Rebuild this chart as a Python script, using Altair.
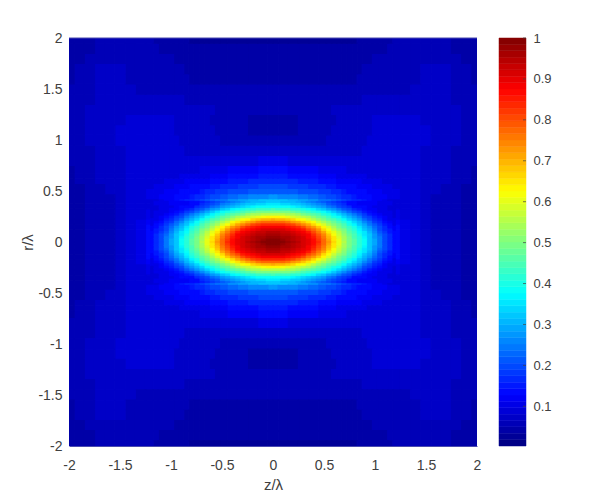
import altair as alt
import pandas as pd

Z = [0,.1,.2,.3,.4,.5,.55,.6,.65,.7,.75,.8,.85,.9,.95,1,1.05,1.1,1.15,1.2,1.3,1.4,1.5,1.6,1.7,1.8,1.9,2]
R = [0,.05,.1,.15,.2,.25,.3,.35,.4,.45,.5,.55,.6,.65,.7,.8,.9,1,1.1,1.2,1.3,1.4,1.5,1.6,1.7,1.8,1.9,2]
V = [
[1,.985,.95,.90,.85,.77,.71,.65,.60,.55,.50,.46,.42,.38,.33,.29,.24,.20,.17,.14,.105,.09,.075,.06,.055,.05,.045,.042],
[.98,.97,.935,.885,.835,.755,.70,.64,.59,.54,.49,.45,.41,.37,.325,.285,.235,.195,.165,.14,.105,.09,.075,.06,.055,.05,.045,.042],
[.94,.93,.90,.85,.80,.72,.665,.61,.56,.51,.47,.43,.39,.35,.31,.27,.225,.19,.16,.135,.105,.09,.075,.06,.055,.05,.045,.042],
[.85,.84,.81,.77,.72,.65,.60,.55,.51,.47,.43,.39,.35,.32,.285,.25,.21,.18,.15,.13,.105,.09,.075,.06,.055,.05,.045,.042],
[.75,.74,.71,.67,.62,.56,.52,.48,.45,.41,.37,.34,.31,.28,.25,.22,.19,.16,.14,.12,.10,.09,.075,.06,.055,.05,.045,.042],
[.62,.61,.59,.55,.51,.46,.43,.40,.37,.34,.31,.285,.26,.24,.215,.19,.165,.145,.125,.11,.095,.088,.075,.06,.055,.05,.045,.042],
[.49,.485,.47,.44,.41,.37,.35,.325,.30,.28,.26,.24,.22,.20,.18,.16,.145,.13,.115,.10,.09,.085,.075,.06,.055,.05,.045,.042],
[.39,.385,.37,.35,.33,.30,.285,.27,.25,.235,.22,.20,.185,.17,.155,.14,.13,.115,.105,.095,.09,.085,.075,.06,.055,.05,.045,.042],
[.32,.315,.305,.29,.27,.25,.24,.225,.21,.20,.185,.17,.16,.15,.135,.125,.115,.105,.095,.09,.09,.085,.075,.06,.055,.05,.045,.042],
[.27,.265,.255,.24,.23,.21,.20,.19,.18,.17,.16,.15,.14,.135,.13,.125,.12,.115,.11,.105,.09,.085,.075,.065,.055,.05,.046,.043],
[.22,.22,.21,.205,.195,.18,.175,.165,.16,.15,.14,.14,.135,.13,.125,.12,.115,.11,.105,.10,.09,.085,.075,.07,.055,.05,.048,.045],
[.19,.19,.185,.175,.17,.16,.15,.145,.14,.135,.13,.13,.125,.12,.115,.11,.105,.10,.10,.095,.09,.085,.078,.07,.06,.052,.049,.046],
[.17,.165,.16,.155,.15,.14,.135,.13,.125,.125,.12,.12,.115,.11,.105,.10,.10,.095,.09,.09,.088,.085,.08,.07,.068,.055,.05,.047],
[.15,.145,.14,.135,.13,.125,.12,.115,.11,.11,.105,.105,.10,.10,.095,.095,.095,.09,.09,.09,.086,.085,.08,.072,.068,.058,.05,.048],
[.13,.13,.125,.12,.115,.11,.105,.10,.10,.10,.095,.095,.095,.095,.09,.09,.09,.09,.09,.09,.085,.085,.078,.072,.068,.06,.05,.048],
[.10,.10,.095,.09,.09,.085,.085,.085,.085,.085,.085,.085,.088,.09,.09,.09,.09,.09,.09,.09,.088,.088,.08,.072,.07,.062,.052,.05],
[.075,.075,.075,.075,.072,.07,.07,.07,.07,.072,.075,.078,.08,.082,.085,.085,.085,.085,.085,.085,.085,.085,.08,.072,.07,.065,.055,.05],
[.058,.058,.058,.06,.062,.064,.066,.068,.07,.072,.074,.076,.078,.08,.082,.082,.082,.082,.082,.082,.082,.082,.082,.074,.07,.066,.055,.05],
[.042,.042,.045,.056,.06,.062,.064,.066,.068,.07,.072,.074,.076,.078,.08,.082,.082,.082,.082,.082,.082,.082,.082,.075,.07,.066,.056,.05],
[.045,.045,.048,.055,.058,.06,.062,.064,.066,.068,.07,.072,.075,.078,.08,.082,.082,.082,.082,.082,.082,.082,.08,.075,.07,.066,.056,.05],
[.052,.052,.052,.055,.056,.058,.062,.066,.066,.068,.068,.07,.07,.07,.072,.072,.074,.074,.074,.074,.074,.074,.074,.072,.07,.066,.056,.05],
[.052,.052,.052,.052,.053,.054,.055,.056,.057,.058,.06,.062,.064,.066,.067,.068,.068,.07,.07,.07,.07,.07,.07,.07,.068,.062,.055,.05],
[.05,.05,.05,.05,.05,.05,.05,.052,.052,.052,.052,.053,.054,.055,.056,.057,.058,.06,.062,.064,.065,.066,.068,.07,.068,.06,.055,.05],
[.044,.044,.044,.044,.044,.045,.045,.045,.046,.046,.047,.048,.05,.052,.054,.055,.056,.056,.057,.058,.06,.062,.068,.07,.068,.06,.055,.048],
[.04,.04,.04,.04,.04,.04,.041,.042,.043,.044,.045,.046,.048,.052,.054,.055,.055,.055,.056,.056,.058,.06,.066,.068,.066,.058,.052,.046],
[.038,.038,.038,.038,.038,.038,.038,.038,.038,.038,.038,.039,.04,.042,.045,.05,.052,.054,.054,.054,.055,.056,.058,.056,.054,.05,.047,.045],
[.036,.036,.036,.036,.036,.036,.036,.036,.036,.036,.036,.036,.036,.037,.038,.04,.044,.048,.05,.05,.05,.05,.05,.05,.05,.048,.045,.043],
[.034,.034,.034,.034,.034,.034,.034,.034,.034,.034,.034,.034,.035,.035,.036,.037,.04,.044,.048,.05,.05,.05,.05,.05,.05,.048,.044,.042],
]

# Finer readings around the central spot
Z_FINE = [0,.05,.1,.15,.2,.25,.3,.35,.4,.45,.5,.55,.6,.65,.7,.75,.8,.85,.9,.95,1,1.05,1.1,1.15,1.2]
R_FINE = [0,.025,.05,.075,.1,.125,.15,.175,.2,.225,.25,.275,.3,.325,.35,.375,.4]
V_FINE = [
[1,.995,.985,.97,.955,.94,.92,.90,.875,.83,.78,.72,.66,.60,.55,.50,.46,.42,.38,.33,.29,.245,.20,.17,.14],
[.992,.989,.98,.966,.952,.937,.918,.898,.871,.826,.775,.715,.656,.597,.547,.497,.458,.418,.378,.328,.288,.243,.199,.169,.139],
[.978,.975,.967,.957,.944,.928,.91,.889,.858,.813,.762,.703,.644,.588,.539,.492,.452,.413,.371,.323,.283,.239,.196,.166,.138],
[.959,.957,.951,.943,.93,.915,.898,.877,.837,.793,.739,.683,.625,.573,.525,.482,.442,.404,.361,.315,.274,.231,.19,.161,.134],
[.94,.938,.932,.923,.912,.898,.88,.848,.808,.762,.709,.655,.60,.554,.507,.468,.43,.391,.346,.304,.262,.219,.183,.154,.13],
[.915,.914,.909,.901,.889,.875,.846,.811,.77,.722,.672,.622,.574,.529,.487,.45,.413,.372,.327,.29,.247,.204,.174,.145,.124],
[.888,.886,.881,.872,.853,.829,.80,.764,.722,.677,.63,.584,.542,.50,.465,.429,.393,.35,.31,.27,.23,.191,.163,.136,.118],
[.841,.839,.831,.818,.80,.775,.744,.708,.668,.626,.586,.547,.507,.473,.44,.406,.368,.325,.29,.249,.207,.177,.15,.128,.112],
[.78,.778,.768,.754,.733,.709,.68,.648,.612,.574,.543,.507,.475,.444,.412,.377,.337,.301,.263,.223,.189,.162,.137,.119,.105],
[.705,.702,.695,.682,.664,.64,.615,.588,.56,.53,.497,.47,.442,.412,.381,.342,.307,.273,.236,.198,.172,.145,.126,.111,.10],
[.63,.628,.62,.608,.594,.577,.557,.534,.508,.484,.46,.434,.407,.378,.34,.31,.276,.24,.204,.177,.153,.131,.115,.103,.095],
[.563,.561,.555,.546,.534,.519,.50,.483,.464,.442,.42,.396,.368,.334,.305,.275,.24,.206,.18,.156,.135,.118,.106,.097,.092],
[.50,.498,.494,.488,.48,.468,.454,.438,.42,.40,.38,.35,.32,.296,.266,.236,.203,.18,.157,.136,.122,.112,.103,.097,.092],
[.44,.438,.435,.43,.42,.41,.398,.383,.363,.34,.317,.296,.27,.245,.215,.19,.17,.15,.13,.125,.115,.107,.10,.095,.09],
[.388,.387,.383,.378,.37,.356,.341,.325,.31,.292,.27,.25,.224,.199,.18,.16,.142,.128,.128,.12,.112,.105,.10,.095,.09],
[.35,.349,.345,.338,.329,.319,.308,.295,.28,.26,.24,.216,.196,.18,.16,.143,.128,.125,.125,.12,.113,.108,.103,.098,.093],
[.32,.317,.314,.308,.30,.292,.281,.267,.25,.232,.211,.194,.178,.162,.145,.135,.13,.127,.125,.12,.115,.11,.105,.10,.095],
]

TICKS = [-2, -1.5, -1, -0.5, 0, 0.5, 1, 1.5, 2]
CB_TICKS = [0.1, 0.2, 0.3, 0.4, 0.5, 0.6, 0.7, 0.8, 0.9, 1]
VMIN, VMAX = 0.003, 1.0
N = 64


def jet(i, n):
    t = (i + 0.5) / n
    def ch(x):
        return max(0.0, min(1.0, 1.5 - abs(4 * x)))
    r, g, b = ch(t - 0.75), ch(t - 0.5), ch(t - 0.25)
    return "#%02x%02x%02x" % (round(r * 255), round(g * 255), round(b * 255))


JET = [jet(i, N) for i in range(N)]


def edges(a):
    lo = [0] + [(a[i] + a[i + 1]) / 2 for i in range(len(a) - 1)]
    hi = lo[1:] + [a[-1]]
    return lo, hi


def cells(zs, rs, vals):
    zlo, zhi = edges(zs)
    rlo, rhi = edges(rs)
    rows = []
    for j in range(len(rs)):
        for i in range(len(zs)):
            for sz in (1, -1):
                for sr in (1, -1):
                    rows.append({
                        "z1": sz * zlo[i], "z2": sz * zhi[i],
                        "r1": sr * rlo[j], "r2": sr * rhi[j],
                        "v": vals[j][i],
                    })
    return pd.DataFrame(rows)


FONT = "Liberation Sans"
TXT = "#404040"
SIZE = 408
color = alt.Scale(type="quantize", domain=[VMIN, VMAX], range=JET)
pos = alt.Scale(domain=[-2, 2], nice=False)
cbpos = alt.Scale(domain=[VMIN, VMAX], nice=False, zero=False)

fmt = "datum.value"
xaxis = alt.Axis(values=TICKS, tickSize=0, domain=True, domainColor="#4a4ab0", domainWidth=1, grid=False,
                 labelFont=FONT, labelFontSize=14, labelColor=TXT, labelPadding=12,
                 title="z/λ", titleFont=FONT, titleFontSize=15, titleColor=TXT, titleFontWeight="normal",
                 titlePadding=5, labelExpr=fmt, labelFlush=False)
yaxis = alt.Axis(values=TICKS, tickSize=0, domain=False, grid=False,
                 labelFont=FONT, labelFontSize=14, labelColor=TXT, labelPadding=7,
                 title="r/λ", titleFont=FONT, titleFontSize=15, titleColor=TXT, titleFontWeight="normal",
                 titlePadding=2, labelExpr=fmt, labelFlush=False)


def heat_layer(df, sw):
    return alt.Chart(df).mark_rect(strokeWidth=sw, clip=True).encode(
        x=alt.X("z1:Q", scale=pos, axis=xaxis),
        x2="z2:Q",
        y=alt.Y("r1:Q", scale=pos, axis=yaxis),
        y2="r2:Q",
        color=alt.Color("v:Q", scale=color, legend=None),
        stroke=alt.Stroke("v:Q", scale=color, legend=None),
    )


top = alt.Chart(pd.DataFrame({"a": [0]})).mark_rule(color="#4a4ab0", strokeWidth=1).encode(
    x=alt.value(0), x2=alt.value(SIZE), y=alt.value(0))
main = alt.layer(heat_layer(cells(Z, R, V), 1.2), heat_layer(cells(Z_FINE, R_FINE, V_FINE), 0.8), top).properties(
    width=SIZE, height=SIZE)

cb_df = pd.DataFrame({
    "a": [VMIN + (VMAX - VMIN) * i / N for i in range(N)],
    "b": [VMIN + (VMAX - VMIN) * (i + 1) / N for i in range(N)],
})
cb_df["m"] = (cb_df["a"] + cb_df["b"]) / 2
cbaxis = alt.Axis(orient="right", values=CB_TICKS, tickSize=0, domain=False, grid=False,
                  labelFont=FONT, labelFontSize=13, labelColor=TXT, labelPadding=7,
                  title=None, labelExpr=fmt, labelFlush=False)
cb_rect = alt.Chart(cb_df).mark_rect(strokeWidth=0.5).encode(
    y=alt.Y("a:Q", scale=cbpos, axis=cbaxis),
    y2="b:Q",
    x=alt.value(0), x2=alt.value(27),
    color=alt.Color("m:Q", scale=color, legend=None),
    stroke=alt.Stroke("m:Q", scale=color, legend=None),
)
cb_ticks = alt.Chart(pd.DataFrame({"t": CB_TICKS})).mark_rule(color="#404040", strokeWidth=1, opacity=0.7).encode(
    y=alt.Y("t:Q", scale=cbpos, axis=cbaxis),
    x=alt.value(24), x2=alt.value(27),
)
bar = alt.layer(cb_rect, cb_ticks).properties(width=27, height=SIZE)

chart = alt.hconcat(main, bar, spacing=17).resolve_scale(color="independent", stroke="independent").configure_view(stroke=None).properties(
    padding={"left": 12, "top": 23, "right": 5, "bottom": 5}, background="white")

chart.save("out.html", embed_options={"renderer": "svg", "actions": False})
